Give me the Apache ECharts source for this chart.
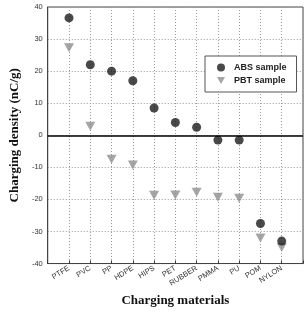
<!DOCTYPE html>
<html>
<head>
<meta charset="utf-8">
<script src="https://cdn.jsdelivr.net/npm/echarts@6/dist/echarts.min.js"></script>
<style>
html, body { margin: 0; padding: 0; background: #fff; }
#main { width: 308px; height: 312px; }
</style>
</head>
<body>
<div id="main"></div>
<script>
// materials (empty slots at both ends give the extra margin)
var materials = ['', 'PTFE', 'PVC', 'PP', 'HDPE', 'HIPS', 'PET', 'RUBBER', 'PMMA', 'PU', 'POM', 'NYLON', ''];
var absSample = [null, 36.6, 22, 20, 17, 8.5, 4, 2.5, -1.5, -1.5, -27.5, -33, null];
var pbtSample = [null, 27.3, 2.8, -7.5, -9.3, -18.7, -18.6, -17.8, -19.3, -19.6, -32, -35, null];
var yTicks = [-40, -30, -20, -10, 0, 10, 20, 30, 40];

var downTriangle = 'path://M0,0 L10,0 L5,9 Z';

var myChart = echarts.init(document.getElementById('main'));
var option = {
    animation: false,
    grid: {
        left: 38, right: 5, top: 7, bottom: 39,
        show: true,
        borderColor: '#444',
        borderWidth: 1
    },
    legend: {
        orient: 'vertical',
        left: 205,
        top: 56,
        width: 89,
        padding: [7, 10, 7, 12],
        itemGap: 4,
        itemWidth: 8,
        itemHeight: 8,
        backgroundColor: '#fff',
        borderColor: '#555',
        borderWidth: 1,
        textStyle: { fontFamily: 'Liberation Sans', fontWeight: 'bold', fontSize: 9, color: '#222', padding: [0, 0, 0, 4] },
        data: ['ABS sample', 'PBT sample']
    },
    xAxis: {
        type: 'category',
        data: materials,
        boundaryGap: false,
        name: 'Charging materials',
        nameLocation: 'middle',
        nameGap: 30,
        nameTextStyle: { fontFamily: 'Liberation Serif', fontWeight: 'bold', fontSize: 13, color: '#111' },
        axisLine: { onZero: false, lineStyle: { color: '#444' } },
        axisTick: { show: true, inside: true, length: 3, lineStyle: { color: '#333' } },
        axisLabel: {
            rotate: 32, interval: 0, margin: 4,
            fontFamily: 'Liberation Sans', fontSize: 7.5, color: '#333'
        },
        splitLine: { show: true, lineStyle: { type: [1, 2], color: '#999' } }
    },
    yAxis: {
        type: 'value',
        min: -40, max: 40, interval: 10,
        name: 'Charging density (nC/g)',
        nameLocation: 'middle',
        nameGap: 24,
        nameTextStyle: { fontFamily: 'Liberation Serif', fontWeight: 'bold', fontSize: 13, color: '#111' },
        axisLine: { show: true, lineStyle: { color: '#444' } },
        axisTick: { show: false },
        axisLabel: {
            margin: 5, fontFamily: 'Liberation Sans', fontSize: 7.5, color: '#333',
            formatter: function (v) { return yTicks.indexOf(v) >= 0 ? String(v) : ''; }
        },
        splitLine: { show: true, lineStyle: { type: [1, 2], color: '#999' } }
    },
    series: [
        {
            name: 'ABS sample',
            type: 'scatter',
            data: absSample,
            symbol: 'circle',
            symbolSize: 9,
            itemStyle: { color: '#1c1c1c' },
            z: 3,
            markLine: {
                silent: true,
                symbol: 'none',
                label: { show: false },
                lineStyle: { color: '#000', type: 'solid', width: 1.5 },
                data: [{ yAxis: 0 }]
            }
        },
        {
            name: 'PBT sample',
            type: 'scatter',
            data: pbtSample,
            symbol: downTriangle,
            symbolSize: [10, 9],
            itemStyle: { color: '#8e8e8e' },
            z: 2
        }
    ]
};
myChart.setOption(option);
</script>
</body>
</html>
